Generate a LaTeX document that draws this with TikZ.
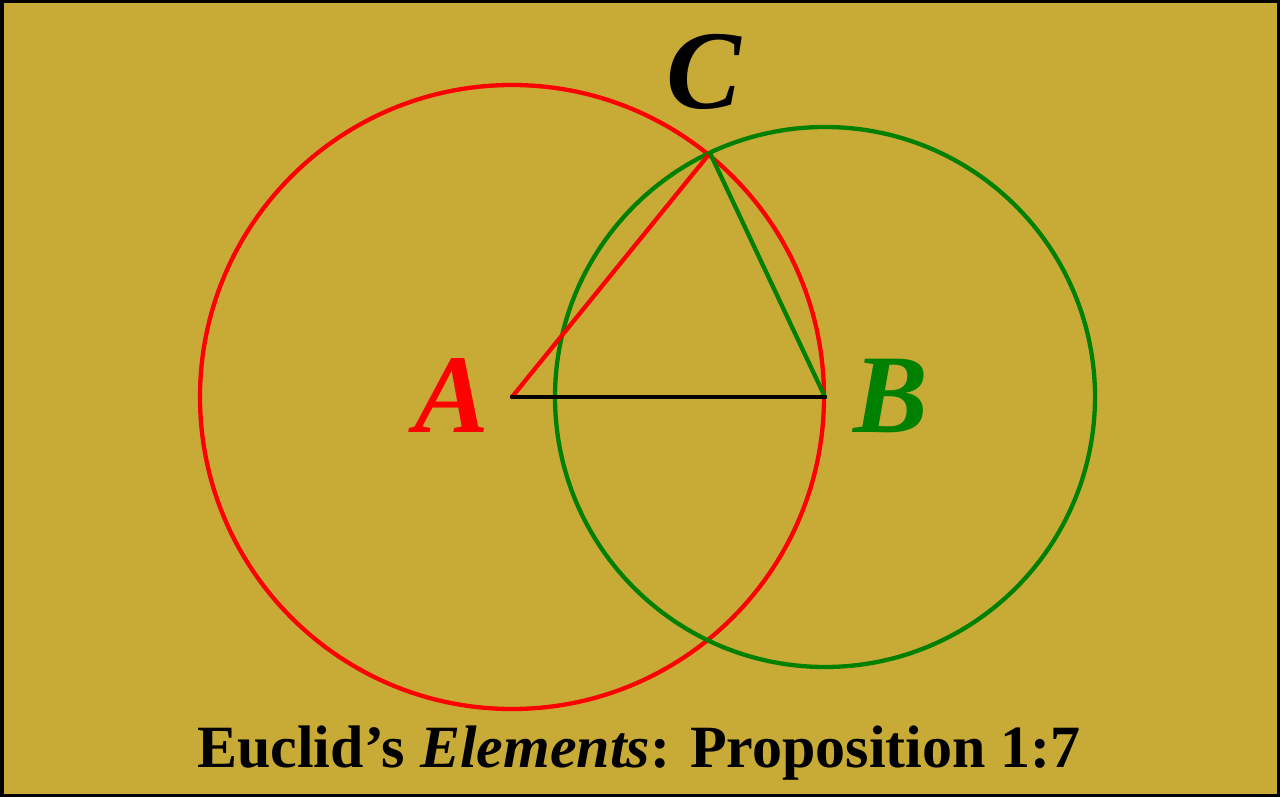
\documentclass[tikz,border=0pt]{standalone}
\usepackage{fontspec}
\setmainfont{Liberation Serif}
\definecolor{bggold}{HTML}{C8AB37}
\definecolor{ptred}{HTML}{FF0000}
\definecolor{ptgreen}{HTML}{008000}
\tikzset{
  frame/.style={fill=bggold, draw=black, line width=7pt},
  circ/.style={line width=4.3pt},
  seg/.style={line width=4.3pt, line cap=round},
  ptlabel/.style={font=\fontsize{112}{112}\selectfont\bfseries\itshape, inner sep=0pt, anchor=base},
  title/.style={font=\fontsize{60}{60}\selectfont\bfseries, inner sep=0pt, anchor=base}
}
\begin{document}
\begin{tikzpicture}[x=1pt, y=-1pt]
\useasboundingbox (0,0) rectangle (1280,797);
\path[frame] (0,0) rectangle (1280,797);
\coordinate (A) at (512,397);
\coordinate (B) at (825,397);
\coordinate (C) at (710,153);
\draw[circ, ptred] (A) circle[radius=312];
\draw[circ, ptgreen] (B) circle[radius=270];
\draw[seg, ptred] (A) -- (C);
\draw[seg, ptgreen] (C) -- (B);
\draw[seg, black] (A) -- (B);
\node[ptlabel, text=ptred] (la) at (452,432) {A};
\node[ptlabel, text=ptgreen] (lb) at (891,432) {B};
\node[ptlabel, text=black] (lc) at (704,109) {C};
\node[title] (t) at (639,767) {Euclid’s \textit{Elements}: Proposition 1:7};
\end{tikzpicture}
\end{document}
